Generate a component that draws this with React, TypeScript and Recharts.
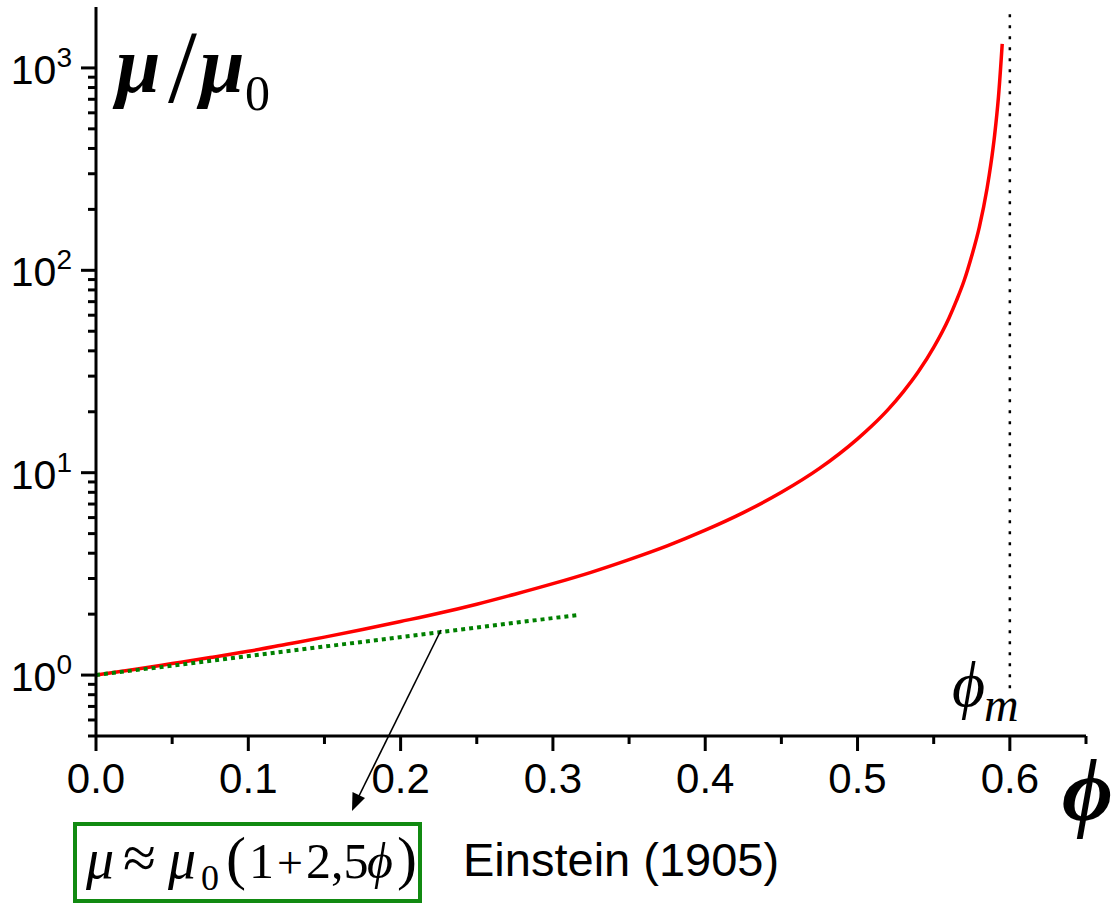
import { ComposedChart, Line, XAxis, YAxis } from 'recharts'

// --- Data ---

// Volume fraction phi (x) and relative viscosity mu/mu0 (y)
const redPhi = [
  0, 0.025, 0.05, 0.075, 0.1, 0.125, 0.15, 0.175, 0.2, 0.225, 0.25, 0.275, 0.3, 0.325, 0.35, 0.375,
  0.4, 0.425, 0.45, 0.475, 0.5, 0.51, 0.52, 0.53, 0.54, 0.55, 0.56, 0.565, 0.57, 0.575, 0.58,
  0.585, 0.5875, 0.59, 0.5925, 0.595,
]
const redMu = [
  1.0, 1.066, 1.14, 1.22, 1.31, 1.42, 1.54, 1.68, 1.84, 2.02, 2.24, 2.51, 2.83, 3.22, 3.72, 4.35,
  5.2, 6.35, 8.0, 10.5, 14.7, 17.2, 20.5, 25.1, 31.6, 41.6, 58, 71, 89, 118, 164,
  253, 333, 465, 715, 1315,
]

// Einstein (1905) linear law, dotted green
const einsteinPhi = [0, 0.316]
const einsteinMu = [1.0, 1.98]

// phi_m marker
const phiMaxX = [0.6, 0.6]
const phiMaxY = [0.862, 2000]

const xTicks = [0, 0.05, 0.1, 0.15, 0.2, 0.25, 0.3, 0.35, 0.4, 0.45, 0.5, 0.55, 0.6, 0.65]
const yTicks = [
  0.5, 0.6, 0.7, 0.8, 0.9,
  1, 2, 3, 4, 5, 6, 7, 8, 9,
  10, 20, 30, 40, 50, 60, 70, 80, 90,
  100, 200, 300, 400, 500, 600, 700, 800, 900,
  1000,
]
const yMajorLabels: Record<number, string> = { 1: '0', 10: '1', 100: '2', 1000: '3' }

const redData = redPhi.map((phi, i) => ({ phi, v: redMu[i] }))
const einsteinData = einsteinPhi.map((phi, i) => ({ phi, v: einsteinMu[i] }))
const phiMaxData = phiMaxX.map((phi, i) => ({ phi, v: phiMaxY[i] }))

const SANS = '"Liberation Sans", Arial, sans-serif'
const SERIF = '"Liberation Serif", "Times New Roman", serif'

// --- Tick renderers ---

const isMajorX = (v: number) => Math.abs(v * 10 - Math.round(v * 10)) < 1e-6 && v < 0.61

const BottomTick = ({ x, y, payload }: any) => {
  const v = payload.value as number
  const major = isMajorX(v)
  return (
    <g>
      <line x1={x} x2={x} y1={y} y2={y + (major ? 15 : 8)} stroke="#000" strokeWidth={3} />
      {major && (
        <text x={x} y={y + 57} textAnchor="middle" fontFamily={SANS} fontSize={42} fill="#000">
          {v.toFixed(1)}
        </text>
      )}
    </g>
  )
}

const TopTick = ({ x, y }: any) => (
  <line x1={x} x2={x} y1={y} y2={y + 5} stroke="#000" strokeWidth={3} />
)

const LeftTick = ({ x, y, payload }: any) => {
  const v = payload.value as number
  const exp = yMajorLabels[v]
  const major = exp !== undefined
  return (
    <g>
      <line x1={x - (major ? 15 : 8)} x2={x} y1={y} y2={y} stroke="#000" strokeWidth={3} />
      {major && (
        <text x={x - 24} y={y + 16} textAnchor="end" fontFamily={SANS} fontSize={41} fill="#000">
          10
          <tspan fontSize={28} dy={-17}>{exp}</tspan>
        </text>
      )}
    </g>
  )
}

const RightTick = ({ x, y, payload }: any) => {
  const major = yMajorLabels[payload.value as number] !== undefined
  return <line x1={x - (major ? 6 : 4)} x2={x} y1={y} y2={y} stroke="#000" strokeWidth={2} />
}

// --- Component ---

export default function App() {
  const axisLine = { stroke: '#000', strokeWidth: 3 }
  return (
    <div style={{ position: 'absolute', left: 0, top: 0, width: 1115, height: 906, background: '#fff' }}>
      <ComposedChart width={1115} height={906} margin={{ top: 7, right: 29, bottom: 110, left: 0 }}>
        <XAxis
          xAxisId="bottom"
          dataKey="phi"
          type="number"
          domain={[0, 0.65]}
          ticks={xTicks}
          interval={0}
          allowDataOverflow
          height={60}
          tickSize={0}
          tickMargin={0}
          tickLine={false}
          axisLine={axisLine}
          tick={<BottomTick />}
        />
        <XAxis
          xAxisId="top"
          orientation="top"
          dataKey="phi"
          type="number"
          domain={[0, 0.65]}
          ticks={xTicks}
          interval={0}
          allowDataOverflow
          height={0}
          tickSize={0}
          tickMargin={0}
          tickLine={false}
          axisLine={axisLine}
          tick={<TopTick />}
        />
        <YAxis
          yAxisId="left"
          type="number"
          scale="log"
          domain={[0.5, 2000]}
          ticks={yTicks}
          interval={0}
          allowDataOverflow
          width={96}
          tickSize={0}
          tickMargin={0}
          tickLine={false}
          axisLine={axisLine}
          tick={<LeftTick />}
        />
        <YAxis
          yAxisId="right"
          orientation="right"
          type="number"
          scale="log"
          domain={[0.5, 2000]}
          ticks={yTicks}
          interval={0}
          allowDataOverflow
          width={0}
          tickSize={0}
          tickMargin={0}
          tickLine={false}
          axisLine={axisLine}
          tick={<RightTick />}
        />
        <Line
          xAxisId="top"
          yAxisId="right"
          data={phiMaxData}
          dataKey="v"
          stroke="#000"
          strokeWidth={2.5}
          strokeDasharray="3 8"
          dot={false}
          isAnimationActive={false}
        />
        <Line
          xAxisId="bottom"
          yAxisId="left"
          data={redData}
          dataKey="v"
          type="monotone"
          stroke="#ff0000"
          strokeWidth={3.5}
          dot={false}
          isAnimationActive={false}
        />
        <Line
          xAxisId="bottom"
          yAxisId="left"
          data={einsteinData}
          dataKey="v"
          stroke="#008000"
          strokeWidth={4}
          strokeDasharray="4 4"
          dot={false}
          isAnimationActive={false}
        />
      </ComposedChart>

      {/* Annotations: axis titles, phi_m label, Einstein box and arrow */}
      <svg width={1115} height={906} style={{ position: 'absolute', left: 0, top: 0, pointerEvents: 'none' }}>
        <text x={116} y={92} fontFamily={SERIF} fontStyle="italic" fontWeight="bold" fontSize={80}>μ</text>
        <text x={168} y={102} fontFamily={SERIF} fontSize={104}>/</text>
        <text x={200} y={92} fontFamily={SERIF} fontStyle="italic" fontWeight="bold" fontSize={80}>μ</text>
        <text x={245} y={110} fontFamily={SERIF} fontSize={50}>0</text>

        <text x={952} y={706} fontFamily={SERIF} fontStyle="italic" fontSize={64}>ϕ</text>
        <text x={984} y={721} fontFamily={SERIF} fontStyle="italic" fontSize={48}>m</text>

        <text x={1062} y={820} fontFamily={SERIF} fontStyle="italic" fontWeight="bold" fontSize={88}>ϕ</text>

        <line x1={441} y1={630} x2={357} y2={800} stroke="#000" strokeWidth={1.6} />
        <polygon points="352,811 365,798 352.5,792" fill="#000" />

        <rect x={75} y={824} width={345} height={77} fill="none" stroke="#118a11" strokeWidth={4} />
        <text y={878} fontFamily={SERIF} fontSize={50} fill="#000">
          <tspan x={86} fontSize={56} fontStyle="italic">μ</tspan>
          <tspan x={123} fontSize={60}>≈</tspan>
          <tspan x={168} fontSize={56} fontStyle="italic">μ</tspan>
          <tspan x={201} y={890} fontSize={36}>0</tspan>
          <tspan x={226} y={878} fontSize={60}>(</tspan>
          <tspan x={249}>1</tspan>
          <tspan x={277} fontSize={46}>+</tspan>
          <tspan x={306}>2,5</tspan>
          <tspan x={367} fontStyle="italic">ϕ</tspan>
          <tspan x={397} fontSize={60}>)</tspan>
        </text>
        <text x={463} y={876} fontFamily={SANS} fontSize={47} fill="#000">Einstein (1905)</text>
      </svg>
    </div>
  )
}
